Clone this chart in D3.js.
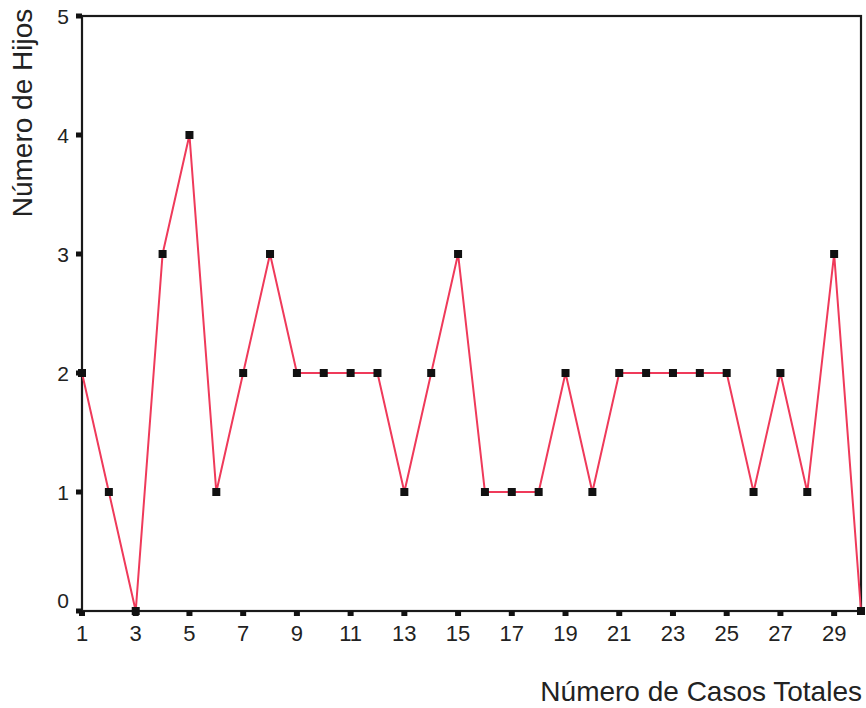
<!DOCTYPE html>
<html><head><meta charset="utf-8">
<script src="https://cdn.jsdelivr.net/npm/d3@7"></script>
<style>body{margin:0;background:#fff}svg{display:block}text{font-family:"Liberation Sans",Arial,sans-serif;fill:#222}</style>
</head><body>
<script>
const cases = d3.range(1, 31);
const hijos = [2,1,0,3,4,1,2,3,2,2,2,2,1,2,3,1,1,1,2,1,2,2,2,2,2,1,2,1,3,0];
const xTicks = [1,3,5,7,9,11,13,15,17,19,21,23,25,27,29];
const yTicks = [0,1,2,3,4,5];
const xTitle = "Número de Casos Totales";
const yTitle = "Número de Hijos";

const W = 866, H = 708;
const L = 82, R = 861, T = 16, B = 611;
const svg = d3.select("body").append("svg").attr("width", W).attr("height", H);
const x = d3.scaleLinear().domain([1, 30]).range([L, R]);
const y = d3.scaleLinear().domain([0, 5]).range([B, T]);

// frame
svg.append("rect").attr("x", L).attr("y", T).attr("width", R - L).attr("height", B - T)
  .attr("fill", "none").attr("stroke", "#1a1a1a").attr("stroke-width", 2.2);

// y ticks
svg.selectAll(".yt").data(yTicks).join("rect")
  .attr("x", L - 6).attr("y", d => y(d) - 2.5).attr("width", 6).attr("height", 5).attr("fill", "#111");
svg.selectAll(".yl").data(yTicks).join("text")
  .attr("x", 69).attr("y", d => y(d) + (d === 0 ? -3 : 8)).attr("text-anchor", "end")
  .attr("font-size", 21).text(d => d);

// x ticks
svg.selectAll(".xt").data(xTicks).join("rect")
  .attr("x", d => x(d) - 3).attr("y", B).attr("width", 6).attr("height", 5).attr("fill", "#111");
svg.selectAll(".xl").data(xTicks).join("text")
  .attr("x", d => x(d)).attr("y", 641).attr("text-anchor", "middle")
  .attr("font-size", 22).text(d => d);

// line
const data = cases.map((c, i) => ({c, v: hijos[i]}));
svg.append("path").datum(data)
  .attr("d", d3.line().x(d => x(d.c)).y(d => y(d.v)))
  .attr("fill", "none").attr("stroke", "#ef3a5a").attr("stroke-width", 2);
svg.selectAll(".m").data(data).join("rect")
  .attr("x", d => x(d.c) - 4).attr("y", d => y(d.v) - 4).attr("width", 8).attr("height", 8)
  .attr("fill", "#111");

// titles
svg.append("text").attr("x", 862).attr("y", 701).attr("text-anchor", "end")
  .attr("font-size", 28).text(xTitle);
svg.append("text").attr("transform", "translate(32,113) rotate(-90)").attr("text-anchor", "middle")
  .attr("font-size", 28).text(yTitle);
</script>
</body></html>
